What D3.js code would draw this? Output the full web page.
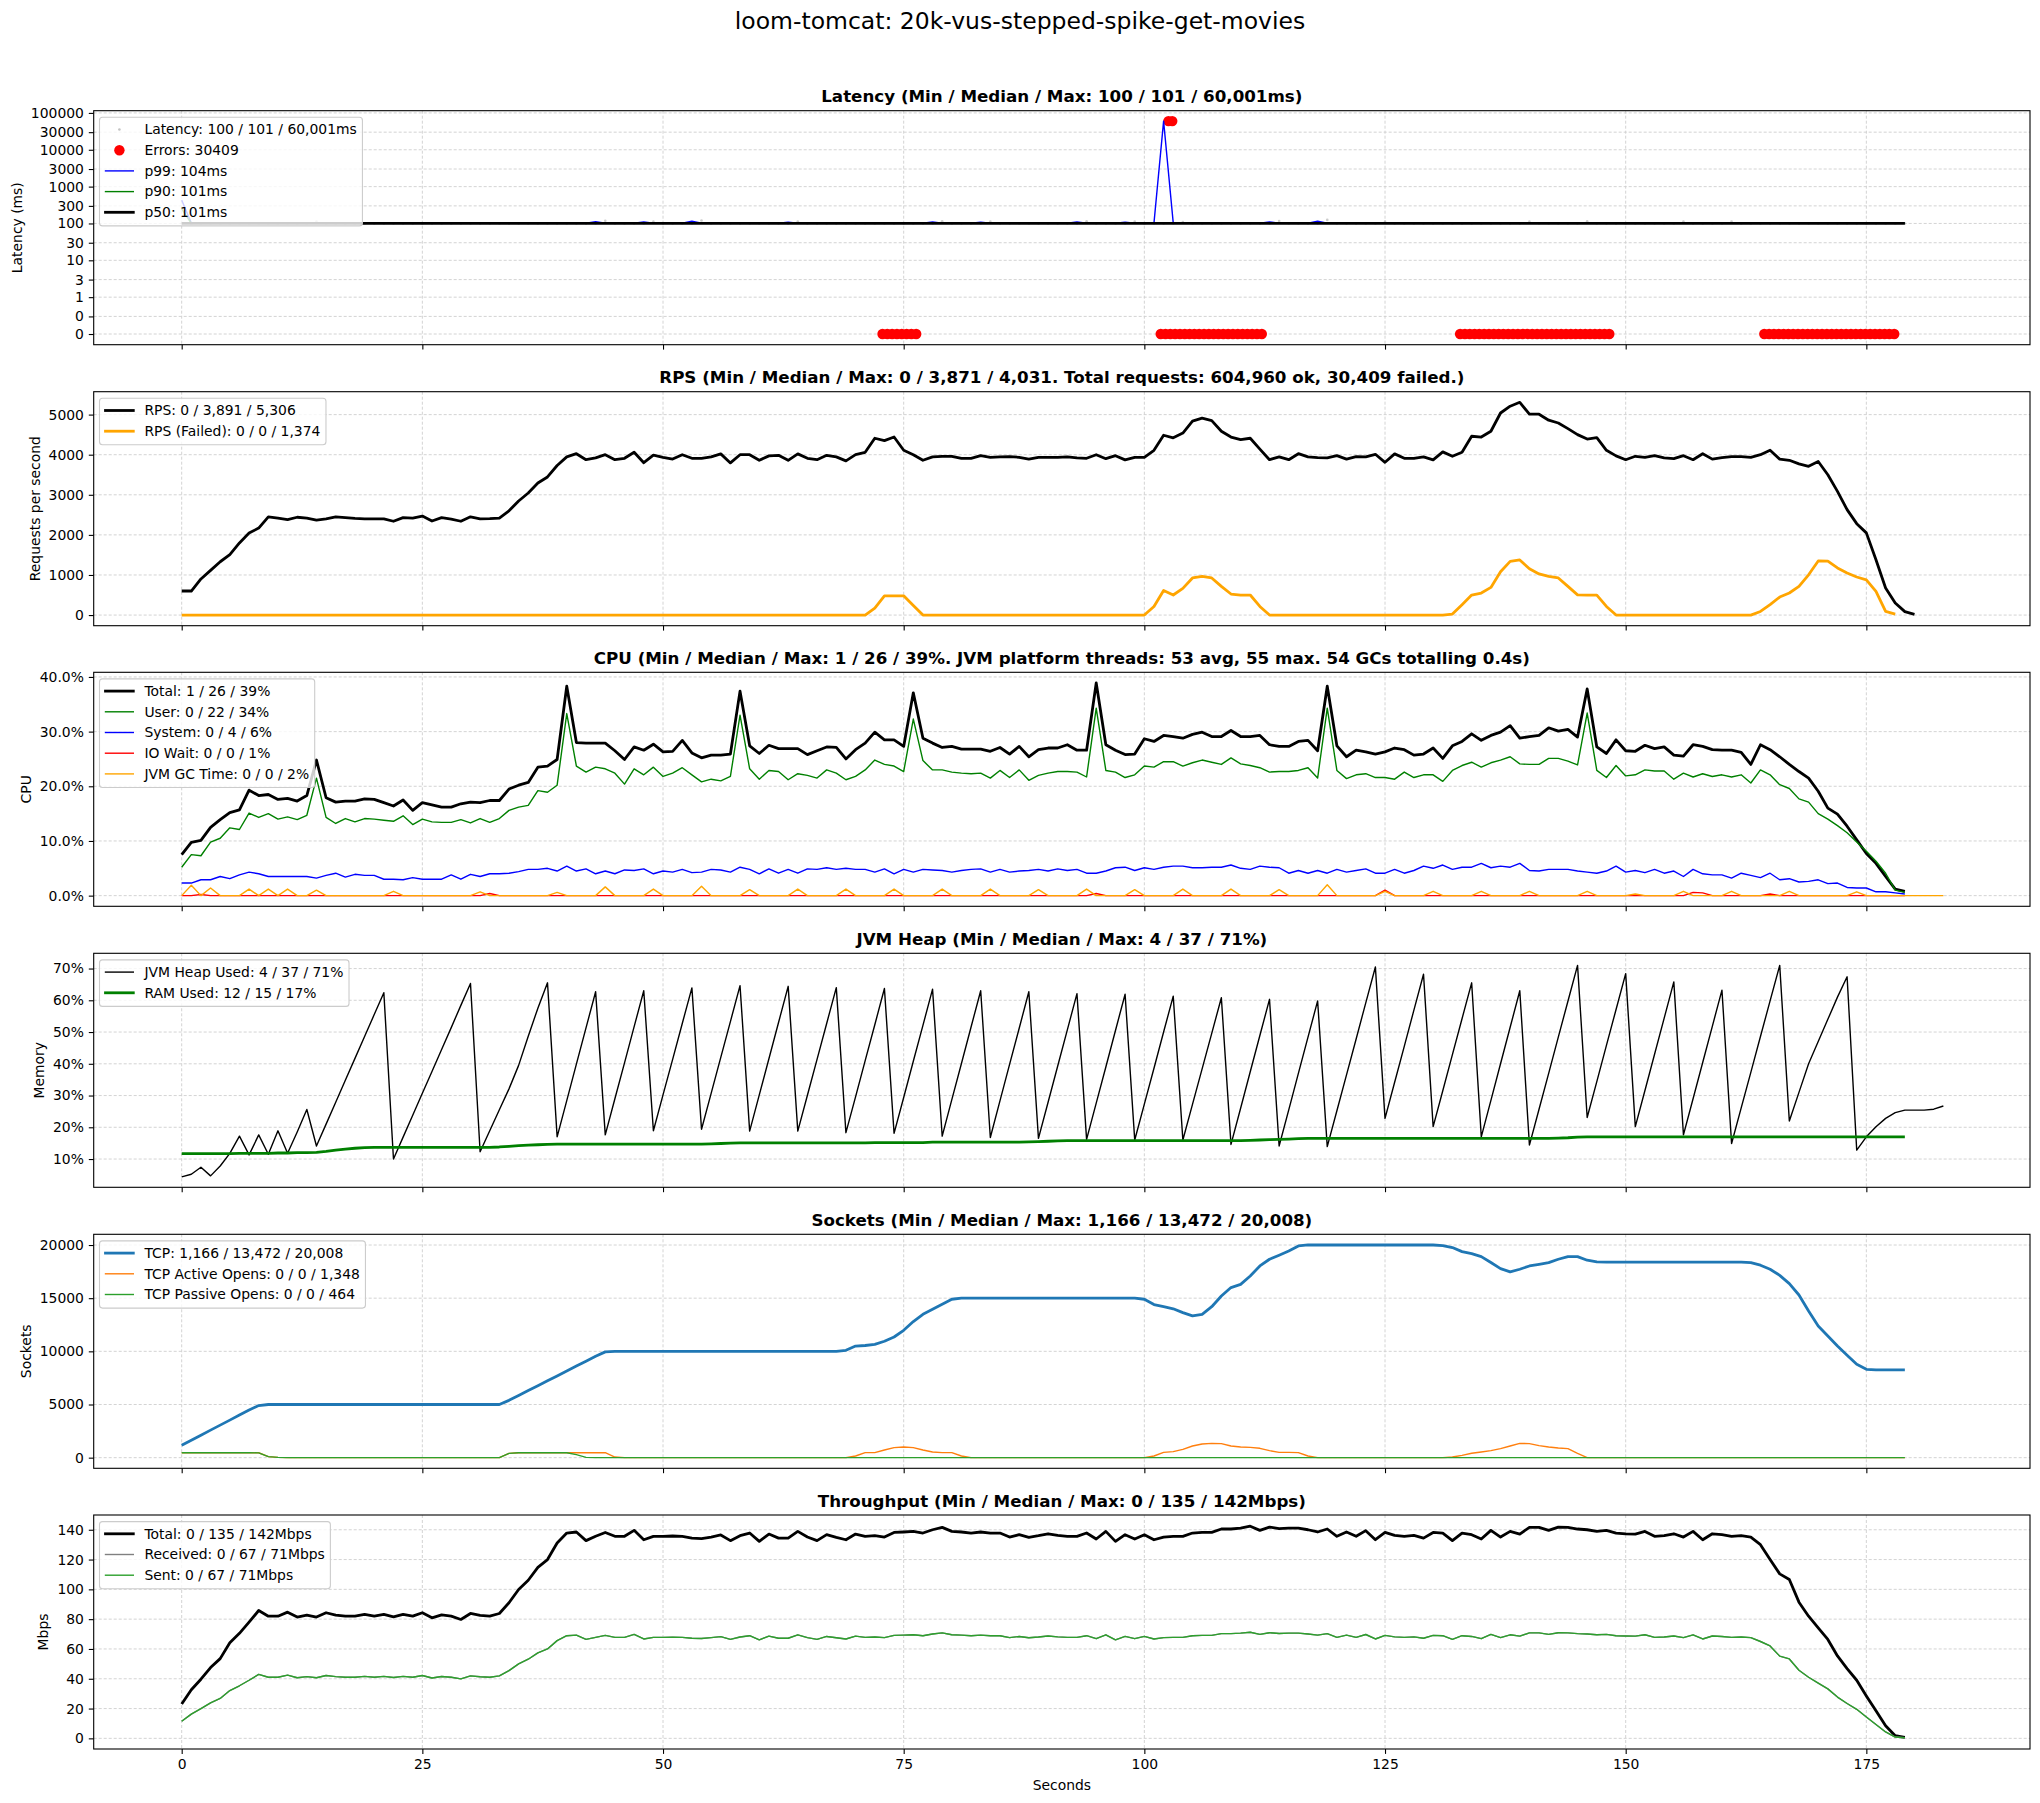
<!DOCTYPE html>
<html><head><meta charset="utf-8">
<script src="https://cdn.jsdelivr.net/npm/d3@7"></script>
<style>body{margin:0;background:#fff} svg{display:block} text{font-family:"DejaVu Sans",sans-serif}</style>
</head><body><svg id="chart" width="2040" height="1803"></svg>
<script>
// ---------------- DATA (index = seconds) ----------------
const suptitle = "loom-tomcat: 20k-vus-stepped-spike-get-movies";
const panelTitles = [
  "Latency (Min / Median / Max: 100 / 101 / 60,001ms)",
  "RPS (Min / Median / Max: 0 / 3,871 / 4,031. Total requests: 604,960 ok, 30,409 failed.)",
  "CPU (Min / Median / Max: 1 / 26 / 39%. JVM platform threads: 53 avg, 55 max. 54 GCs totalling 0.4s)",
  "JVM Heap (Min / Median / Max: 4 / 37 / 71%)",
  "Sockets (Min / Median / Max: 1,166 / 13,472 / 20,008)",
  "Throughput (Min / Median / Max: 0 / 135 / 142Mbps)"
];
const yLabels = ["Latency (ms)", "Requests per second", "CPU", "Memory", "Sockets", "Mbps"];
const xTicks = [0, 25, 50, 75, 100, 125, 150, 175];
const xLabel = "Seconds";

// Latency
const latencyTicks = [100000, 30000, 10000, 3000, 1000, 300, 100, 30, 10, 3, 1, 0.3, 0.1];
const latencySamples = [100,100,100,100,100,100,100,100,100,100, 100,100,100,100,112,100,100,100,100,100, 100,100,100,100,100,100,100,100,100,100, 100,100,100,100,100,100,100,100,100,100, 100,100,100,100,118,100,100,100,100,112, 100,100,100,100,120,100,100,100,100,100, 100,100,100,100,113,100,100,100,100,100, 100,100,100,100,100,100,100,100,100,115, 100,100,100,100,112,100,100,100,100,100, 100,100,100,100,115,100,100,100,100,112, 100,100,100,100,110,100,100,100,100,100, 100,100,100,100,117,100,100,100,100,125, 100,100,100,100,100,112,100,100,100,100, 100,100,100,100,100,100,100,100,100,100, 112,100,100,100,100,100,115,100,100,100, 100,100,100,100,100,100,113,100,100,100, 100,112,100,100,100,100,100,100,100,100, 100,100,100,100,100,100,100,100,100,100];
const errorsTimeoutTimes = [102.5, 102.9];
const errorsTimeoutMs = 60001;
const errorsNoResponseTimes = [72.8,73.3,73.8,74.3,74.8,75.3,75.8,76.3,
  101.7,102.2,102.7,103.2,103.7,104.2,104.7,105.2,105.7,106.2,106.7,107.2,107.7,108.2,108.7,109.2,109.7,110.2,110.7,111.2,111.7,112.2,
  132.8,133.3,133.8,134.3,134.8,135.3,135.8,136.3,136.8,137.3,137.8,138.3,138.8,139.3,139.8,140.3,140.8,141.3,141.8,142.3,142.8,143.3,143.8,144.3,144.8,145.3,145.8,146.3,146.8,147.3,147.8,148.3,
  164.4,164.9,165.4,165.9,166.4,166.9,167.4,167.9,168.4,168.9,169.4,169.9,170.4,170.9,171.4,171.9,172.4,172.9,173.4,173.9,174.4,174.9,175.4,175.9,176.4,176.9,177.4,177.9];
const errorsNoResponseMs = 0.1;
const p99 = [430,102,102,102,102,102,102,102,102,102, 102,102,102,102,104,102,102,102,102,102, 102,102,102,102,102,102,102,102,102,102, 102,102,102,102,102,102,102,102,102,102, 102,102,102,112,102,102,102,102,110,102, 102,102,102,115,102,102,102,102,102,102, 102,102,102,108,102,102,102,102,102,102, 102,102,102,102,102,102,102,102,110,102, 102,102,102,108,102,102,102,102,102,102, 102,102,102,110,102,102,102,102,108,102, 102,104,60001,104,102,102,102,102,102,102, 102,102,102,110,102,102,102,102,115,102, 102,102,102,102,102,102,102,102,102,102, 102,102,102,102,102,102,102,102,102,102, 102,102,102,102,102,102,102,102,102,102, 102,102,102,102,102,102,102,102,102,102, 102,102,102,102,102,102,102,102,102,102, 102,102,102,102,102,102,102,102,102,102];
const p90 = [250,101,101,101,101,101,101,101,101,101, 101,101,101,101,101,101,101,101,101,101, 101,101,101,101,101,101,101,101,101,101, 101,101,101,101,101,101,101,101,101,101, 101,101,101,101,101,101,101,101,101,101, 101,101,101,101,101,101,101,101,101,101, 101,101,101,101,101,101,101,101,101,101, 101,101,101,101,101,101,101,101,101,101, 101,101,101,101,101,101,101,101,101,101, 101,101,101,101,101,101,101,101,101,101, 101,101,101,101,101,101,101,101,101,101, 101,101,101,101,101,101,101,101,101,101, 101,101,101,101,101,101,101,101,101,101, 101,101,101,101,101,101,101,101,101,101, 101,101,101,101,101,101,101,101,101,101, 101,101,101,101,101,101,101,101,101,101, 101,101,101,101,101,101,101,101,101,101, 101,101,101,101,101,101,101,101,101,101];
const p50 = [101,101,101,101,101,101,101,101,101,101, 101,101,101,101,101,101,101,101,101,101, 101,101,101,101,101,101,101,101,101,101, 101,101,101,101,101,101,101,101,101,101, 101,101,101,101,101,101,101,101,101,101, 101,101,101,101,101,101,101,101,101,101, 101,101,101,101,101,101,101,101,101,101, 101,101,101,101,101,101,101,101,101,101, 101,101,101,101,101,101,101,101,101,101, 101,101,101,101,101,101,101,101,101,101, 101,101,101,101,101,101,101,101,101,101, 101,101,101,101,101,101,101,101,101,101, 101,101,101,101,101,101,101,101,101,101, 101,101,101,101,101,101,101,101,101,101, 101,101,101,101,101,101,101,101,101,101, 101,101,101,101,101,101,101,101,101,101, 101,101,101,101,101,101,101,101,101,101, 101,101,101,101,101,101,101,101,101,101];

// RPS
const rpsTicks = [0, 1000, 2000, 3000, 4000, 5000];
const rpsOk = [600,600,900,1115,1330,1506,1800,2046,2170,2450, 2420,2380,2440,2420,2370,2400,2450,2430,2410,2400, 2400,2400,2340,2430,2420,2470,2345,2430,2395,2340, 2450,2400,2405,2420,2600,2845,3045,3295,3445,3730, 3945,4025,3875,3920,4000,3875,3910,4060,3800,3990, 3935,3890,4000,3910,3910,3945,4020,3795,4000,4000, 3860,3970,3985,3860,4020,3910,3875,3985,3945,3845, 4000,4060,4410,4350,4440,4110,4000,3860,3945,3960, 3960,3910,3910,3975,3935,3945,3950,3935,3890,3935, 3935,3935,3945,3920,3910,4000,3900,3975,3870,3935, 3935,4110,4485,4420,4540,4835,4910,4850,4585,4440, 4375,4410,4140,3875,3945,3875,4025,3945,3925,3920, 3975,3890,3950,3945,4010,3810,4020,3910,3910,3945, 3870,4070,3960,4060,4460,4440,4585,5040,5210,5306, 5010,5010,4860,4790,4650,4500,4390,4425,4110,3970, 3875,3960,3935,3975,3920,3900,3975,3875,4025,3890, 3925,3950,3950,3935,4000,4110,3890,3860,3770,3710, 3830,3500,3085,2630,2280,2050,1380,675,300,85, 17];
const rpsFailed = [0,0,0,0,0,0,0,0,0,0, 0,0,0,0,0,0,0,0,0,0, 0,0,0,0,0,0,0,0,0,0, 0,0,0,0,0,0,0,0,0,0, 0,0,0,0,0,0,0,0,0,0, 0,0,0,0,0,0,0,0,0,0, 0,0,0,0,0,0,0,0,0,0, 0,0,175,480,480,480,240,0,0,0, 0,0,0,0,0,0,0,0,0,0, 0,0,0,0,0,0,0,0,0,0, 0,215,615,500,665,925,965,925,715,525, 500,500,215,0,0,0,0,0,0,0, 0,0,0,0,0,0,0,0,0,0, 0,0,25,260,500,550,690,1080,1340,1374, 1155,1025,965,925,715,505,500,500,215,0, 0,0,0,0,0,0,0,0,0,0, 0,0,0,0,90,260,450,550,715,1005, 1350,1345,1175,1050,950,880,590,90,25];

// CPU (%)
const cpuTicks = [0, 10, 20, 30, 40];
const cpuTotal = [7.5,9.75,10.1,12.5,13.9,15.2,15.7,19.3,18.3,18.5, 17.6,17.8,17.3,18.3,24.8,17.9,17.1,17.3,17.3,17.7, 17.6,17.0,16.4,17.5,15.6,17.0,16.6,16.2,16.2,16.8, 17.1,17.0,17.4,17.4,19.5,20.2,20.7,23.5,23.7,24.9, 38.3,28.0,27.9,27.9,27.9,26.5,24.9,27.2,26.6,27.7, 26.3,26.4,28.4,26.1,25.2,25.7,25.7,25.9,37.4,27.4, 26.0,27.5,26.9,26.9,26.9,25.8,26.5,27.2,27.1,25.0, 26.7,27.9,29.9,28.5,28.5,27.3,37.1,28.8,27.9,27.1, 27.3,26.8,26.8,26.8,26.4,27.1,25.9,27.3,25.4,26.7, 27.0,27.0,27.6,26.6,26.6,38.9,27.6,26.6,25.8,25.9, 28.7,28.2,29.3,29.1,28.8,29.5,29.9,29.1,29.1,30.2, 29.1,29.1,29.3,27.6,27.3,27.3,28.2,28.4,26.5,38.3, 27.4,25.4,26.6,26.3,25.9,26.3,27.0,26.7,25.7,25.9, 27.0,25.1,27.4,28.2,29.6,28.4,29.3,29.9,31.1,28.8, 29.1,29.3,30.7,30.1,30.4,29.0,37.8,27.2,26.0,28.5, 26.5,26.4,27.5,26.9,27.2,25.7,25.5,27.6,27.3,26.7, 26.6,26.6,26.2,24.0,27.6,26.7,25.4,24.0,22.7,21.5, 19.1,16.0,14.9,12.7,10.2,7.7,5.9,3.5,1.2,0.8];
const cpuUser = [5.2,7.5,7.3,9.8,10.5,12.4,12.1,15.1,14.3,15.0, 14.0,14.4,13.9,14.7,21.5,14.3,13.2,14.1,13.5,14.1, 14.0,13.8,13.6,14.6,13.0,14.0,13.5,13.4,13.4,13.9, 13.3,14.1,13.4,14.1,15.6,16.2,16.5,19.2,18.9,20.2, 33.3,23.7,22.6,23.5,23.2,22.4,20.4,23.2,22.1,23.5, 21.8,22.4,23.4,22.1,20.8,21.3,21.0,21.8,33.0,23.2, 21.3,22.9,22.7,21.2,22.3,22.0,21.5,23.0,22.4,21.2, 21.8,23.0,24.8,24.0,23.7,22.7,32.3,24.7,23.0,23.0, 22.6,22.4,22.3,22.4,21.5,22.9,21.6,23.0,21.1,22.0, 22.4,22.7,22.7,22.6,21.7,34.3,22.9,22.6,21.6,22.1, 23.7,23.5,24.5,24.5,23.7,24.3,24.8,24.4,24.0,25.2, 24.1,23.8,23.4,22.6,22.7,22.7,22.9,23.4,21.5,34.3, 22.9,21.4,22.1,22.3,21.6,21.6,21.3,22.6,21.6,22.1, 22.1,20.9,22.9,23.8,24.4,23.5,24.3,24.8,25.4,24.1, 24.0,24.0,25.1,25.1,24.6,23.9,33.4,22.9,21.6,23.8, 21.9,22.1,23.0,22.8,22.8,21.3,22.4,21.7,22.3,21.8, 22.1,21.7,22.1,20.6,23.0,22.1,20.3,19.6,17.7,17.1, 15.0,14.0,12.8,11.5,9.8,8.1,6.3,4.1,1.0,0.6];
const cpuSystem = [2.3,2.3,2.9,2.9,3.5,3.1,3.8,4.3,4.0,3.5, 3.5,3.5,3.5,3.5,3.2,3.7,4.1,3.4,3.9,3.7, 3.7,3.0,3.0,2.9,3.3,3.0,3.0,3.0,3.8,3.0, 3.9,3.5,4.0,4.0,4.1,4.4,4.8,4.8,5.0,4.5, 5.4,4.5,4.9,4.0,4.5,4.0,4.7,4.6,4.9,4.0, 4.5,4.3,4.8,4.2,4.3,4.8,4.7,4.3,5.2,4.8, 4.0,4.9,4.1,4.8,4.1,4.9,4.8,5.1,4.8,5.0, 4.8,4.8,4.3,4.9,4.0,4.8,4.3,4.8,4.7,4.6, 4.3,4.6,4.8,4.9,4.3,4.8,4.3,4.5,4.6,4.8, 4.5,4.9,4.6,4.8,4.1,4.1,4.5,5.1,5.2,4.6, 5.1,4.8,5.2,5.4,5.4,5.1,5.1,5.2,5.2,5.6, 5.0,4.8,5.4,5.2,5.1,4.1,4.6,4.1,4.6,4.1, 4.8,4.3,4.6,4.9,4.1,4.1,4.8,4.1,4.6,5.4, 5.0,5.6,4.8,5.2,5.2,5.9,5.1,5.4,5.2,5.9, 4.6,4.5,4.8,4.8,4.8,4.5,4.3,4.1,4.5,5.4, 4.3,4.6,4.2,4.8,4.1,4.5,3.5,4.8,4.0,3.8, 3.8,3.2,4.1,3.7,3.3,4.1,2.9,3.1,2.5,2.6, 2.9,2.2,2.3,1.5,1.4,1.4,0.7,0.7,0.5,0.3];
const cpuIoWait = [0,0,0.2,0,0,0,0,0,0,0, 0,0,0,0,0,0,0,0,0,0, 0,0,0,0,0,0,0,0,0,0, 0,0,0.4,0,0,0,0,0,0,0, 0,0,0,0,0,0,0,0,0,0, 0,0,0,0,0,0,0,0,0,0, 0,0,0,0,0,0,0,0,0,0, 0,0,0,0,0,0,0,0,0,0, 0,0,0,0,0,0,0,0,0,0, 0,0,0,0,0,0.4,0,0,0,0, 0,0,0,0,0,0,0,0,0,0, 0,0,0,0,0,0,0,0,0,0, 0,0,0,0,0,1.0,0,0,0,0, 0,0,0,0,0,0,0,0,0,0, 0,0,0,0,0,0,0,0,0,0, 0,0,0,0,0,0,0,0.6,0.5,0, 0,0,0,0,0,0.3,0,0,0,0, 0,0,0,0,0,0,0,0,0,0];
const cpuGc = [0,1.9,0,1.4,0,0,0,1.2,0,1.2, 0,1.2,0,0,1.0,0,0,0,0,0, 0,0,0.8,0,0,0,0,0,0,0, 0,0.7,0,0,0,0,0,0,0,0.6, 0,0,0,0,1.6,0,0,0,0,1.2, 0,0,0,0,1.7,0,0,0,0,1.1, 0,0,0,0,1.2,0,0,0,0,1.2, 0,0,0,0,1.2,0,0,0,0,1.2, 0,0,0,0,1.2,0,0,0,0,1.1, 0,0,0,0,1.2,0,0,0,0,1.1, 0,0,0,0,1.2,0,0,0,0,1.2, 0,0,0,0,1.1,0,0,0,0,2.0, 0,0,0,0,0,0.8,0,0,0,0, 0.8,0,0,0,0,0.8,0,0,0,0, 0.8,0,0,0,0,0,0.8,0,0,0, 0,0.3,0,0,0,0,0.8,0,0,0, 0,0.8,0,0,0,0,0,0.8,0,0, 0,0,0,0,0.7,0,0,0,0,0, 0,0,0,0];

// Memory (%)
const memTicks = [10, 20, 30, 40, 50, 60, 70];
const heapUsed = [4.4,5.2,7.4,4.7,7.8,11.8,17.2,11.3,17.6,11.5, 18.9,11.8,18.5,25.6,14.1,21.0,27.9,34.8,41.7,48.6, 55.5,62.4,10.0,16.9,23.8,30.7,37.6,44.5,51.4,58.4, 65.3,12.3,18.9,25.5,32.1,39.5,48.7,57.5,65.5,17.0, 28.4,39.9,51.3,62.7,17.6,29.0,40.3,51.7,63.0,18.9, 30.2,41.4,52.7,63.9,19.4,30.7,42.0,53.3,64.6,18.8, 30.2,41.6,53.0,64.4,18.8,30.1,41.4,52.7,64.0,18.3, 29.6,41.0,52.3,63.7,18.1,29.4,40.8,52.1,63.5,17.2, 28.7,40.1,51.6,63.0,16.8,28.3,39.8,51.2,62.7,16.5, 27.9,39.3,50.7,62.1,16.2,27.6,39.0,50.5,61.9,16.0, 27.3,38.6,50.0,61.3,16.0,27.2,38.4,49.6,60.8,14.6, 26.0,37.5,48.9,60.3,14.1,25.5,37.0,48.4,59.8,13.9, 25.2,36.5,47.8,59.2,70.5,22.8,34.2,45.5,56.9,68.2, 20.2,31.5,42.9,54.2,65.5,17.0,28.5,40.0,51.5,63.0, 14.4,25.7,37.0,48.4,59.7,71.0,23.1,34.4,45.8,57.1, 68.4,20.2,31.6,43.0,54.4,65.8,17.6,29.0,40.4,51.8, 63.2,14.9,26.1,37.3,48.6,59.8,71.0,22.0,31.0,40.0, 47.0,54.0,61.0,67.4,12.8,17.0,20.2,22.8,24.6,25.4, 25.4,25.4,25.7,26.7];
const ramUsed = [11.7,11.7,11.7,11.7,11.7,11.7,11.8,11.8,11.8,11.8, 11.9,11.9,12.0,12.0,12.1,12.4,12.8,13.1,13.4,13.6, 13.7,13.7,13.7,13.7,13.7,13.7,13.7,13.7,13.7,13.7, 13.7,13.7,13.7,13.8,14.0,14.2,14.4,14.5,14.6,14.7, 14.7,14.7,14.7,14.7,14.7,14.7,14.7,14.7,14.7,14.7, 14.7,14.7,14.7,14.7,14.7,14.8,14.9,15.0,15.1,15.1, 15.1,15.1,15.1,15.1,15.1,15.1,15.1,15.1,15.1,15.1, 15.1,15.1,15.2,15.2,15.2,15.2,15.2,15.2,15.3,15.3, 15.3,15.3,15.3,15.3,15.3,15.3,15.3,15.3,15.4,15.5, 15.6,15.7,15.8,15.8,15.8,15.8,15.8,15.8,15.8,15.8, 15.8,15.8,15.8,15.8,15.8,15.8,15.8,15.8,15.8,15.8, 15.8,15.9,16.0,16.1,16.2,16.3,16.4,16.5,16.5,16.5, 16.5,16.5,16.5,16.5,16.5,16.5,16.5,16.5,16.5,16.5, 16.5,16.5,16.5,16.5,16.5,16.5,16.5,16.5,16.5,16.5, 16.5,16.5,16.5,16.6,16.7,16.9,17.0,17.0,17.0,17.0, 17.0,17.0,17.0,17.0,17.0,17.0,17.0,17.0,17.0,17.0, 17.0,17.0,17.0,17.0,17.0,17.0,17.0,17.0,17.0,17.0, 17.0,17.0,17.0,17.0,17.0,17.0,17.0,17.0,17.0,17.0];

// Sockets
const sockTicks = [0, 5000, 10000, 15000, 20000];
const tcp = [1166,1640,2110,2590,3060,3530,4010,4480,4900,5000, 5000,5000,5000,5000,5000,5000,5000,5000,5000,5000, 5000,5000,5000,5000,5000,5000,5000,5000,5000,5000, 5000,5000,5000,5000,5390,5850,6310,6770,7230,7690, 8150,8610,9070,9530,9950,10000,10000,10000,10000,10000, 10000,10000,10000,10000,10000,10000,10000,10000,10000,10000, 10000,10000,10000,10000,10000,10000,10000,10000,10000,10100, 10500,10550,10650,10950,11350,11980,12800,13480,13950,14425, 14900,15000,15000,15000,15000,15000,15000,15000,15000,15000, 15000,15000,15000,15000,15000,15000,15000,15000,15000,15000, 14900,14400,14200,14000,13640,13330,13480,14200,15200,16000, 16300,17090,18030,18660,19040,19440,19910,20008,20000,20000, 20000,20000,20000,20000,20000,20000,20000,20000,20000,20000, 20000,19950,19760,19380,19190,18910,18350,17780,17470,17720, 18030,18190,18350,18660,18910,18910,18570,18410,18400,18400, 18400,18400,18400,18400,18400,18400,18400,18400,18400,18400, 18400,18400,18400,18350,18100,17720,17150,16370,15300,13800, 12390,11450,10500,9630,8780,8310,8250,8250,8250,8250];
const tcpActiveOpens = [464,464,464,464,464,464,464,464,460,100, 30,0,0,0,0,0,0,0,0,0, 0,0,0,0,0,0,0,0,0,0, 0,0,0,0,400,464,464,464,464,464, 464,464,464,464,464,60,0,0,0,0, 0,0,0,0,0,0,0,0,0,0, 0,0,0,0,0,0,0,0,0,0, 157,470,470,720,940,1000,940,720,530,470, 470,157,0,0,0,0,0,0,0,0, 0,0,0,0,0,0,0,0,0,0, 0,157,500,565,785,1100,1290,1348,1317,1100, 1000,970,880,660,500,500,470,157,0,0, 0,0,0,0,0,0,0,0,0,0, 0,0,60,220,410,530,660,850,1100,1348, 1317,1130,1000,910,850,410,0,0,0,0, 0,0,0,0,0,0,0,0,0,0, 0,0,0,0,0,0,0,0,0,0, 0,0,0,0,0,0,0,0,0,0];
const tcpPassiveOpens = [464,464,464,464,464,464,464,464,450,100, 30,0,0,0,0,0,0,0,0,0, 0,0,0,0,0,0,0,0,0,0, 0,0,0,0,400,464,464,464,464,464, 464,280,30,0,0,0,0,0,0,0, 0,0,0,0,0,0,0,0,0,0, 0,0,0,0,0,0,0,0,0,0, 0,0,0,0,0,0,0,0,0,0, 0,0,0,0,0,0,0,0,0,0, 0,0,0,0,0,0,0,0,0,0, 0,0,0,0,0,0,0,0,0,0, 0,0,0,0,0,0,0,0,0,0, 0,0,0,0,0,0,0,0,0,0, 0,0,0,0,0,0,0,0,0,0, 0,0,0,0,0,0,0,0,0,0, 0,0,0,0,0,0,0,0,0,0, 0,0,0,0,0,0,0,0,0,0, 0,0,0,0,0,0,0,0,0,0];

// Throughput (Mbps)
const tputTicks = [0, 20, 40, 60, 80, 100, 120, 140];
const totalMbps = [23,32.6,39.7,47.5,53.5,64.2,70.5,78,85.8,82, 82,84.7,81.4,82.7,81.4,84.3,82.7,82,82,83.2, 82,83.2,81.6,83.2,82,84.3,80.9,82.9,82,79.8, 83.8,82.5,82,83.8,91,99.9,106.1,114.8,120,131.1, 137.8,138.5,132.7,135.6,138.2,135.6,135.6,139.6,133.3,135.6, 135.6,135.8,135.6,134.4,134,135.1,136.5,132.7,136,137.8, 132.2,137.1,134.4,134.4,138.9,135.1,132.7,136.7,134.9,133.3, 137.1,135.6,136,135.1,138.2,138.5,138.9,137.8,140,141.6, 138.9,138.5,137.8,138.5,137.8,137.8,135.1,136.7,134.9,136, 137.3,136.2,135.6,135.6,137.8,133.8,138.9,132.2,136.7,133.8, 136.7,133.3,135.1,135.6,135.6,137.8,138.2,138.2,140.5,140.5, 141.1,142.4,139.6,141.8,140.7,141.1,141.1,140,138.5,140.5, 135.6,138.5,135.6,139.4,133.3,138.2,136.2,135.6,136.2,134.4, 138.2,137.8,132.7,137.8,136.7,133.8,139.6,135.1,138.9,137.1, 141.6,141.6,139.6,141.8,141.6,140.5,140,138.9,139.6,137.8, 137.3,137.1,138.9,135.6,136,137.3,135.1,138.9,133.3,137.3, 136.7,135.6,136,135.1,130,120,110.4,106.6,91.4,82, 74.2,66.4,55.3,46.8,39,28.5,18.5,8.5,1.8,0.7];
const receivedMbps = [11.5,16.3,19.9,23.8,26.8,32.1,35.3,39,42.9,41, 41,42.4,40.7,41.4,40.7,42.2,41.4,41,41,41.6, 41,41.6,40.8,41.6,41,42.2,40.5,41.5,41,39.9, 41.9,41.3,41,41.9,45.5,50,53.1,57.4,60,65.6, 68.9,69.3,66.4,67.8,69.1,67.8,67.8,69.8,66.7,67.8, 67.8,67.9,67.8,67.2,67,67.6,68.3,66.4,68,68.9, 66.1,68.6,67.2,67.2,69.5,67.6,66.4,68.4,67.5,66.7, 68.6,67.8,68,67.6,69.1,69.3,69.5,68.9,70,70.8, 69.5,69.3,68.9,69.3,68.9,68.9,67.6,68.4,67.5,68, 68.7,68.1,67.8,67.8,68.9,66.9,69.5,66.1,68.4,66.9, 68.4,66.7,67.6,67.8,67.8,68.9,69.1,69.1,70.3,70.3, 70.6,71.2,69.8,70.9,70.4,70.6,70.6,70,69.3,70.3, 67.8,69.3,67.8,69.7,66.7,69.1,68.1,67.8,68.1,67.2, 69.1,68.9,66.4,68.9,68.4,66.9,69.8,67.6,69.5,68.6, 70.8,70.8,69.8,70.9,70.8,70.3,70,69.5,69.8,68.9, 68.7,68.6,69.5,67.8,68,68.7,67.6,69.5,66.7,68.7, 68.4,67.8,68,67.6,65,62,55.2,53.3,45.7,41, 37.1,33.2,27.7,23.4,19.5,14.3,9.3,4.3,0.9,0.4];
const sentMbps = [11.5,16.3,19.9,23.8,26.8,32.1,35.3,39,42.9,41, 41,42.4,40.7,41.4,40.7,42.2,41.4,41,41,41.6, 41,41.6,40.8,41.6,41,42.2,40.5,41.5,41,39.9, 41.9,41.3,41,41.9,45.5,50,53.1,57.4,60,65.6, 68.9,69.3,66.4,67.8,69.1,67.8,67.8,69.8,66.7,67.8, 67.8,67.9,67.8,67.2,67,67.6,68.3,66.4,68,68.9, 66.1,68.6,67.2,67.2,69.5,67.6,66.4,68.4,67.5,66.7, 68.6,67.8,68,67.6,69.1,69.3,69.5,68.9,70,70.8, 69.5,69.3,68.9,69.3,68.9,68.9,67.6,68.4,67.5,68, 68.7,68.1,67.8,67.8,68.9,66.9,69.5,66.1,68.4,66.9, 68.4,66.7,67.6,67.8,67.8,68.9,69.1,69.1,70.3,70.3, 70.6,71.2,69.8,70.9,70.4,70.6,70.6,70,69.3,70.3, 67.8,69.3,67.8,69.7,66.7,69.1,68.1,67.8,68.1,67.2, 69.1,68.9,66.4,68.9,68.4,66.9,69.8,67.6,69.5,68.6, 70.8,70.8,69.8,70.9,70.8,70.3,70,69.5,69.8,68.9, 68.7,68.6,69.5,67.8,68,68.7,67.6,69.5,66.7,68.7, 68.4,67.8,68,67.6,65,62,55.2,53.3,45.7,41, 37.1,33.2,27.7,23.4,19.5,14.3,9.3,4.3,0.9,0.4];

// ---------------- DRAWING ----------------
const W = 2040, H = 1803;
const L = 93.7, R = 2030, PH = 234;
const tops = [110.7, 391.7, 672.3, 953.3, 1234.3, 1515];
const FS = 13.9;
const svg = d3.select('#chart');
svg.append('rect').attr('width', W).attr('height', H).attr('fill', '#fff');
const x = d3.scaleLinear().domain([-9.14, 192.0]).range([L, R]);

svg.append('text').attr('x', W / 2).attr('y', 29).attr('text-anchor', 'middle')
  .attr('font-size', 23.5).attr('fill', '#000').text(suptitle);

function linePath(y) {
  return d3.line().x((d, i) => x(i)).y(d => y(d));
}

function addLegend(g, top, entries) {
  const bx = L + 5.8, by = top + 6.6, rowH = 20.7;
  const lg = g.append('g');
  const box = lg.append('rect').attr('x', bx).attr('y', by).attr('rx', 3).attr('ry', 3)
    .attr('fill', '#fff').attr('fill-opacity', 0.8).attr('stroke', '#cccccc').attr('stroke-width', 1.1);
  let maxR = 0;
  entries.forEach((e, k) => {
    const cy = by + 12.2 + k * rowH;
    if (e.type === 'dot') {
      lg.append('circle').attr('cx', bx + 19.9).attr('cy', cy).attr('r', e.r)
        .attr('fill', e.color).attr('fill-opacity', e.opacity == null ? 1 : e.opacity);
    } else {
      lg.append('line').attr('x1', bx + 6).attr('x2', bx + 33.8).attr('y1', cy).attr('y2', cy)
        .attr('stroke', e.color).attr('stroke-width', e.width).attr('stroke-linecap', 'square');
    }
    const t = lg.append('text').attr('x', bx + 44.9).attr('y', cy).attr('dy', '0.35em')
      .attr('font-size', FS).attr('fill', '#000').text(e.label);
    maxR = Math.max(maxR, bx + 44.9 + t.node().getComputedTextLength());
  });
  box.attr('width', maxR + 5.6 - bx).attr('height', 12.2 + (entries.length - 1) * rowH + 13.6);
}

function panel(i, cfg) {
  const top = tops[i], bottom = top + PH;
  const y = cfg.yScale.range([bottom, top]);
  const g = svg.append('g');
  const cid = 'clip' + i;
  svg.append('clipPath').attr('id', cid).append('rect')
    .attr('x', L).attr('y', top).attr('width', R - L).attr('height', PH);
  const grid = g.append('g').attr('stroke', '#b0b0b0').attr('stroke-width', 0.9)
    .attr('stroke-dasharray', '3,2').attr('opacity', 0.6);
  xTicks.forEach(t => grid.append('line').attr('x1', x(t)).attr('x2', x(t)).attr('y1', top).attr('y2', bottom));
  cfg.yTicks.forEach(t => grid.append('line').attr('x1', L).attr('x2', R).attr('y1', y(t)).attr('y2', y(t)));
  const plot = g.append('g').attr('clip-path', `url(#${cid})`);
  cfg.draw(plot, y);
  g.append('rect').attr('x', L).attr('y', top).attr('width', R - L).attr('height', PH)
    .attr('fill', 'none').attr('stroke', '#000').attr('stroke-width', 1.1);
  // y axis
  const ya = g.append('g').attr('transform', `translate(${L},0)`)
    .call(d3.axisLeft(y).tickValues(cfg.yTicks).tickFormat(cfg.yFormat).tickSize(4.9).tickPadding(4.9));
  ya.select('.domain').remove();
  ya.attr('font-size', FS).attr('font-family', 'DejaVu Sans');
  ya.selectAll('text').attr('fill', '#000');
  ya.selectAll('line').attr('stroke', '#000').attr('stroke-width', 1.1);
  // x axis
  const xa = g.append('g').attr('transform', `translate(0,${bottom})`)
    .call(d3.axisBottom(x).tickValues(xTicks).tickSize(4.9).tickPadding(4.9)
      .tickFormat(i === 5 ? d3.format('d') : () => ''));
  xa.select('.domain').remove();
  xa.attr('font-size', FS).attr('font-family', 'DejaVu Sans');
  xa.selectAll('text').attr('fill', '#000');
  xa.selectAll('line').attr('stroke', '#000').attr('stroke-width', 1.1);
  // y label
  const bb = ya.node().getBBox();
  const lx = L + bb.x - 5.6 - 3.3;
  g.append('text').attr('transform', `translate(${lx},${(top + bottom) / 2}) rotate(-90)`)
    .attr('text-anchor', 'middle').attr('font-size', FS).attr('fill', '#000').text(yLabels[i]);
  // title
  g.append('text').attr('x', (L + R) / 2).attr('y', top - 8.5).attr('text-anchor', 'middle')
    .attr('font-size', 16.7).attr('font-weight', 'bold').attr('fill', '#000').text(panelTitles[i]);
  addLegend(g, top, cfg.legend);
}

function drawLine(plot, y, data, color, width) {
  plot.append('path').attr('d', linePath(y)(data)).attr('fill', 'none')
    .attr('stroke', color).attr('stroke-width', width).attr('stroke-linejoin', 'round');
}

// 0 Latency
panel(0, {
  yScale: d3.scaleLog().domain([Math.pow(10, -1.29), Math.pow(10, 5.06)]),
  yTicks: latencyTicks,
  yFormat: d => String(Math.round(d)),
  draw: (p, y) => {
    p.selectAll('.ls').data(latencySamples).join('circle').attr('cx', (d, i) => x(i)).attr('cy', d => y(d))
      .attr('r', 1.3).attr('fill', '#999').attr('fill-opacity', 0.5);
    p.selectAll('.en').data(errorsNoResponseTimes).join('circle').attr('cx', d => x(d)).attr('cy', y(errorsNoResponseMs))
      .attr('r', 5.2).attr('fill', 'red');
    p.selectAll('.et').data(errorsTimeoutTimes).join('circle').attr('cx', d => x(d)).attr('cy', y(errorsTimeoutMs))
      .attr('r', 5.2).attr('fill', 'red');
    drawLine(p, y, p99, 'blue', 1.4);
    drawLine(p, y, p90, 'green', 1.4);
    drawLine(p, y, p50, 'black', 2.8);
  },
  legend: [
    {type: 'dot', r: 1.3, color: '#999', opacity: 0.6, label: 'Latency: 100 / 101 / 60,001ms'},
    {type: 'dot', r: 5.2, color: 'red', label: 'Errors: 30409'},
    {type: 'line', color: 'blue', width: 1.4, label: 'p99: 104ms'},
    {type: 'line', color: 'green', width: 1.4, label: 'p90: 101ms'},
    {type: 'line', color: 'black', width: 2.8, label: 'p50: 101ms'}
  ]
});

// 1 RPS
panel(1, {
  yScale: d3.scaleLinear().domain([-265, 5571]),
  yTicks: rpsTicks,
  yFormat: d => String(d),
  draw: (p, y) => {
    drawLine(p, y, rpsOk, 'black', 2.8);
    drawLine(p, y, rpsFailed, 'orange', 2.8);
  },
  legend: [
    {type: 'line', color: 'black', width: 2.8, label: 'RPS: 0 / 3,891 / 5,306'},
    {type: 'line', color: 'orange', width: 2.8, label: 'RPS (Failed): 0 / 0 / 1,374'}
  ]
});

// 2 CPU
panel(2, {
  yScale: d3.scaleLinear().domain([-1.95, 40.85]),
  yTicks: cpuTicks,
  yFormat: d => d.toFixed(1) + '%',
  draw: (p, y) => {
    drawLine(p, y, cpuTotal, 'black', 2.8);
    drawLine(p, y, cpuUser, 'green', 1.4);
    drawLine(p, y, cpuSystem, 'blue', 1.4);
    drawLine(p, y, cpuIoWait, 'red', 1.4);
    drawLine(p, y, cpuGc, 'orange', 1.4);
  },
  legend: [
    {type: 'line', color: 'black', width: 2.8, label: 'Total: 1 / 26 / 39%'},
    {type: 'line', color: 'green', width: 1.4, label: 'User: 0 / 22 / 34%'},
    {type: 'line', color: 'blue', width: 1.4, label: 'System: 0 / 4 / 6%'},
    {type: 'line', color: 'red', width: 1.4, label: 'IO Wait: 0 / 0 / 1%'},
    {type: 'line', color: 'orange', width: 1.4, label: 'JVM GC Time: 0 / 0 / 2%'}
  ]
});

// 3 JVM Heap
panel(3, {
  yScale: d3.scaleLinear().domain([1.1, 74.8]),
  yTicks: memTicks,
  yFormat: d => d + '%',
  draw: (p, y) => {
    drawLine(p, y, heapUsed, 'black', 1.4);
    drawLine(p, y, ramUsed, 'green', 2.8);
  },
  legend: [
    {type: 'line', color: 'black', width: 1.4, label: 'JVM Heap Used: 4 / 37 / 71%'},
    {type: 'line', color: 'green', width: 2.8, label: 'RAM Used: 12 / 15 / 17%'}
  ]
});

// 4 Sockets
panel(4, {
  yScale: d3.scaleLinear().domain([-1000.4, 21008.4]),
  yTicks: sockTicks,
  yFormat: d => String(d),
  draw: (p, y) => {
    drawLine(p, y, tcp, '#1f77b4', 2.8);
    drawLine(p, y, tcpActiveOpens, '#ff7f0e', 1.4);
    drawLine(p, y, tcpPassiveOpens, '#2ca02c', 1.4);
  },
  legend: [
    {type: 'line', color: '#1f77b4', width: 2.8, label: 'TCP: 1,166 / 13,472 / 20,008'},
    {type: 'line', color: '#ff7f0e', width: 1.4, label: 'TCP Active Opens: 0 / 0 / 1,348'},
    {type: 'line', color: '#2ca02c', width: 1.4, label: 'TCP Passive Opens: 0 / 0 / 464'}
  ]
});

// 5 Throughput
panel(5, {
  yScale: d3.scaleLinear().domain([-7.14, 149.9]),
  yTicks: tputTicks,
  yFormat: d => String(d),
  draw: (p, y) => {
    drawLine(p, y, totalMbps, 'black', 2.8);
    drawLine(p, y, receivedMbps, 'gray', 1.4);
    drawLine(p, y, sentMbps, '#2ca02c', 1.4);
  },
  legend: [
    {type: 'line', color: 'black', width: 2.8, label: 'Total: 0 / 135 / 142Mbps'},
    {type: 'line', color: 'gray', width: 1.4, label: 'Received: 0 / 67 / 71Mbps'},
    {type: 'line', color: '#2ca02c', width: 1.4, label: 'Sent: 0 / 67 / 71Mbps'}
  ]
});

svg.append('text').attr('x', (L + R) / 2).attr('y', 1790).attr('text-anchor', 'middle')
  .attr('font-size', FS).attr('fill', '#000').text(xLabel);
</script>
</body></html>
